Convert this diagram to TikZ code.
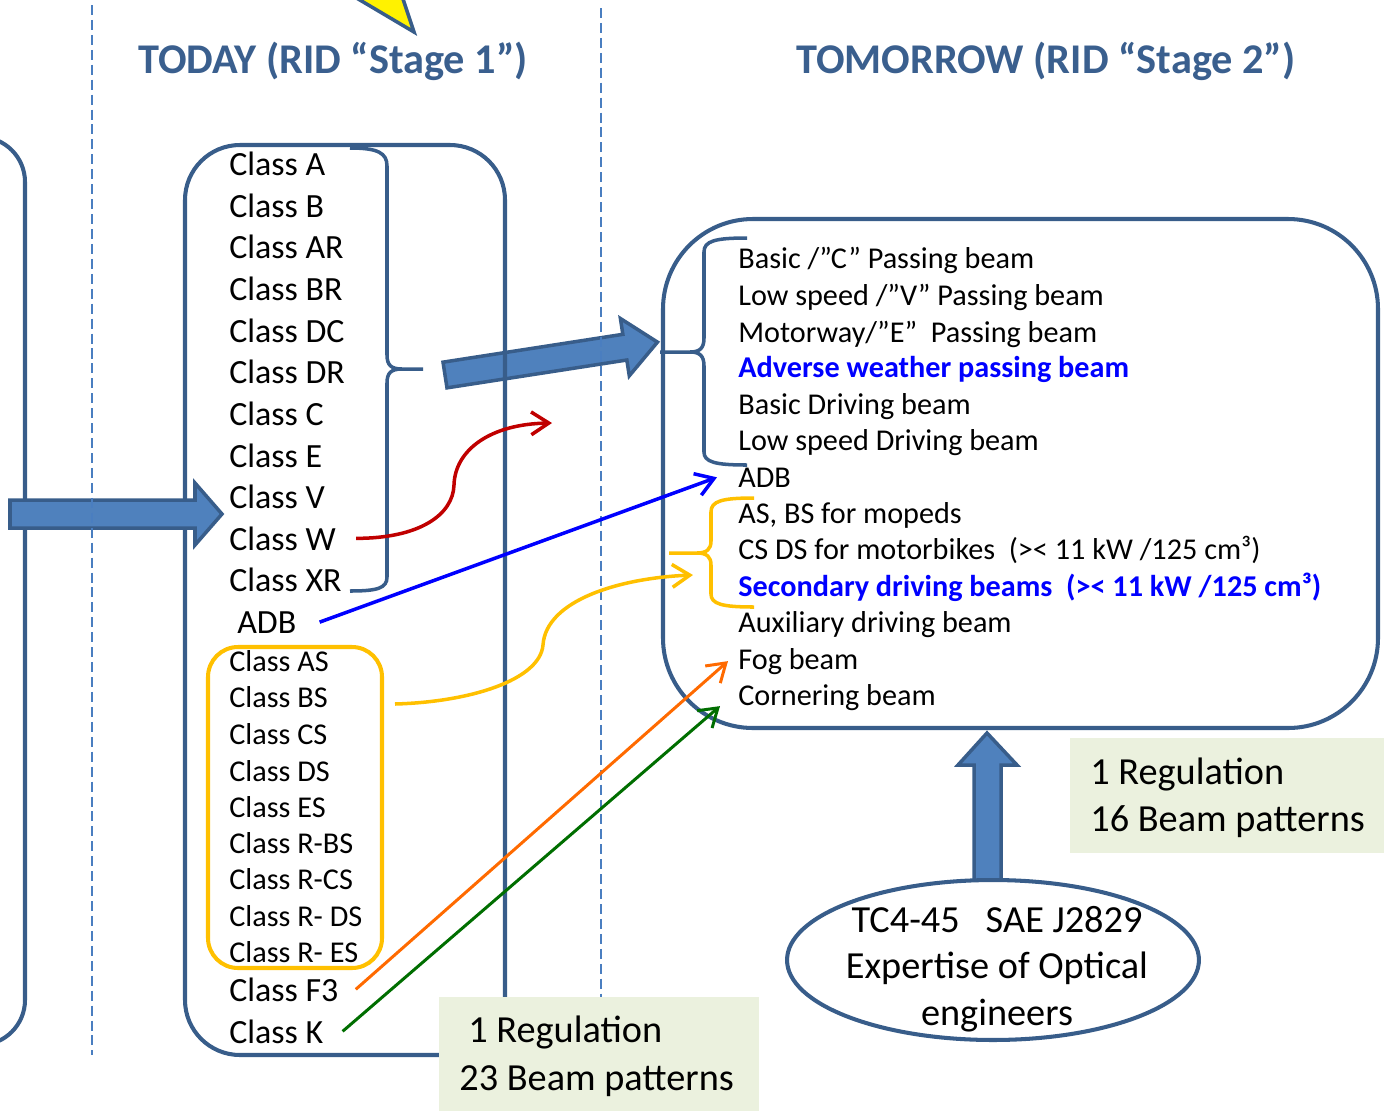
\documentclass[tikz,border=0pt]{standalone}
\usepackage{fontspec}
\setmainfont{Carlito}
\usetikzlibrary{calc,shapes.geometric,arrows.meta}
\definecolor{boxline}{HTML}{385D8A}
\definecolor{headblue}{HTML}{3A5F8E}
\definecolor{arrowfill}{HTML}{4F81BD}
\definecolor{vline}{HTML}{4A7EC0}
\definecolor{grpline}{HTML}{FFC000}
\definecolor{linkred}{HTML}{C00000}
\definecolor{linkblue}{HTML}{0000FF}
\definecolor{linkorange}{HTML}{FF6A00}
\definecolor{linkgreen}{HTML}{006E00}
\definecolor{regfill}{HTML}{EBF1DE}
\tikzset{
  clsbig/.style={anchor=base west,inner sep=0pt,font=\fontsize{19.3}{23}\selectfont},
  clssmall/.style={anchor=base west,inner sep=0pt,font=\fontsize{17.2}{20}\selectfont},
  headtxt/.style={anchor=base,inner sep=0pt,text=headblue,font=\fontsize{24.1}{28}\selectfont\bfseries},
  regtxt/.style={inner sep=0pt,font=\fontsize{21.8}{26}\selectfont},
  link/.style={line width=2pt,-{Straight Barb[length=10pt,width=13pt]}},
  blockarrow/.style={fill=arrowfill,draw=boxline,line width=2pt,line join=miter},
  bigbox/.style={draw=boxline,line width=2.3pt},
  bracepath/.style={draw=boxline,line width=2pt},
}
\begin{document}
\begin{tikzpicture}[x=0.02cm,y=-0.02cm]
  \useasboundingbox (0,0) rectangle (1384,1110);
  \clip (0,0) rectangle (1384,1110);
  \draw[fill=yellow,draw=boxline,line width=2pt] (343,-10) -- (414,32) -- (400,-10);

  \begin{scope}[shift={(445,375)},rotate=8.8]
    \draw[blockarrow] (0,-13) -- (182,-13) -- (182,-29) -- (215,0) -- (182,29) -- (182,13) -- (0,13) -- cycle;
  \end{scope}

  \draw[bigbox,rounded corners=0.9cm] (-80,137) -- (25,137) -- (25,1045) -- (-80,1045);
  \draw[bigbox,rounded corners=1.1cm] (185,145) rectangle (505,1055);
  \draw[bigbox,rounded corners=1.8cm] (663,219) rectangle (1378,728);
  \draw[draw=grpline,line width=2.3pt,rounded corners=0.6cm] (208,647) rectangle (382,968);

  \draw[bracepath] (350,148) .. controls (378,148) and (387,153) .. (387,166) -- (387,355)
    .. controls (387,365) and (391,369) .. (402,369) -- (423,369);
  \draw[bracepath] (402,369) .. controls (391,369) and (387,373) .. (387,383) -- (387,577)
    .. controls (387,588) and (378,591) .. (350,591);
  \draw[bracepath] (747,238) .. controls (715,238) and (704,241) .. (704,252) -- (704,338)
    .. controls (704,348) and (700,352) .. (690,352) -- (660,352);
  \draw[bracepath] (690,352) .. controls (700,352) and (704,356) .. (704,366) -- (704,452)
    .. controls (704,462) and (715,465) .. (747,465);
  \draw[bracepath,draw=grpline] (754,498) .. controls (722,498) and (711,501) .. (711,512) -- (711,541)
    .. controls (711,549) and (707,553) .. (697,553) -- (669,553);
  \draw[bracepath,draw=grpline] (697,553) .. controls (707,553) and (711,557) .. (711,565) -- (711,594)
    .. controls (711,604) and (722,607) .. (754,607);

  \draw[blockarrow] (10,500) -- (195,500) -- (195,483) -- (222,514) -- (195,545) -- (195,528) -- (10,528) -- cycle;

  \draw[vline,line width=1.1pt,dash pattern=on 5.7pt off 2.8pt] (92,5) -- (92,1055);
  \draw[vline,line width=1.1pt,dash pattern=on 5.7pt off 2.8pt] (601,8) -- (601,1055);

  \node[headtxt] (today) at (333,73) {TODAY (RID “Stage 1”)};
  \node[headtxt] (tomorrow) at (1046,73) {TOMORROW (RID “Stage 2”)};

  \foreach \nm/\txt/\yy in {cA/A/175,cB/B/217,cAR/AR/258,cBR/BR/300,cDC/DC/342,cDR/DR/383,
      cC/C/425,cE/E/467,cV/V/508,cW/W/550,cXR/XR/591}
    \node[clsbig] (\nm) at (229,\yy) {Class \txt};
  \node[clsbig] (adbL) at (237,633) {ADB};
  \foreach \nm/\txt/\yy in {cAS/AS/671,cBS/BS/707,cCS/CS/744,cDS/DS/781,cES/ES/817,
      cRBS/R-BS/853,cRCS/R-CS/889,cRDS/R- DS/926,cRES/R- ES/962}
    \node[clssmall] (\nm) at (229,\yy) {Class \txt};
  \node[clsbig] (cF3) at (229,1001) {Class F3};
  \node[clsbig] (cK) at (229,1043) {Class K};

  \node[clssmall] (basicR) at (738,268) {Basic /”C” Passing beam};
  \node[clssmall] (lowR) at (738,305) {Low speed /”V” Passing beam};
  \node[clssmall] (motR) at (738,342) {Motorway/”E”\ \ Passing beam};
  \node[clssmall,text=linkblue,font=\fontsize{17.2}{20}\selectfont\bfseries] (advR) at (738,377) {Adverse weather passing beam};
  \node[clssmall] (bdrR) at (738,414) {Basic Driving beam};
  \node[clssmall] (ldrR) at (738,450) {Low speed Driving beam};
  \node[clssmall] (adbR) at (738,487) {ADB};
  \node[clssmall] (mopR) at (738,523) {AS, BS for mopeds};
  \node[clssmall] (motbR) at (738,559) {CS DS for motorbikes\ \ (>< 11 kW /125 cm³)};
  \node[clssmall,text=linkblue,font=\fontsize{17.2}{20}\selectfont\bfseries] (secR) at (738,596) {Secondary driving beams\ \ (>< 11 kW /125 cm³)};
  \node[clssmall] (auxR) at (738,632) {Auxiliary driving beam};
  \node[clssmall] (fogR) at (738,669) {Fog beam};
  \node[clssmall] (corR) at (738,705) {Cornering beam};

  \coordinate (redEnd) at (552,423);
  \coordinate (ylwStart) at (395,704);
  \coordinate (ylwEnd) at (693,575);
  \draw[link,linkred] ([xshift=0.4cm]cW.east) .. controls +(63,0) and (453,515) .. (454,485)
    .. controls (455,450) and (490,424) .. (redEnd);
  \draw[link,linkblue] ([xshift=0.46cm]adbL.east) -- ([xshift=-0.42cm]adbR.west);
  \draw[link,grpline] (ylwStart) .. controls (470,702) and (540,680) .. (543,645)
    .. controls (546,600) and (620,578) .. (ylwEnd);
  \draw[link,linkorange,line width=1.7pt] ([xshift=0.34cm]cF3.east) -- ([xshift=-0.2cm]fogR.west);
  \draw[link,linkgreen,line width=1.7pt] ([xshift=0.38cm]cK.east) -- ([xshift=-0.36cm,yshift=-0.18cm]corR.west);

  \draw[blockarrow] (974,885) -- (974,765) -- (958,765) -- (987,733) -- (1017,765) -- (1001,765) -- (1001,885) -- cycle;
  \node[draw=boxline,line width=2.3pt,fill=white,ellipse,minimum width=8.24cm,minimum height=3.2cm] (expert) at (993,960) {};
  \node[regtxt,anchor=base] (exp1) at (997,932) {TC4-45\ \ \ SAE J2829};
  \node[regtxt,anchor=base] (exp2) at (997,978) {Expertise of Optical};
  \node[regtxt,anchor=base] (exp3) at (997,1025) {engineers};

  \fill[regfill] (439,997) rectangle (759,1115);
  \node[regtxt,anchor=base west] (regA1) at (468,1042) {1 Regulation};
  \node[regtxt,anchor=base west] (regA2) at (459,1090) {23 Beam patterns};
  \fill[regfill] (1070,738) rectangle (1390,853);
  \node[regtxt,anchor=base west] (regB1) at (1090,784) {1 Regulation};
  \node[regtxt,anchor=base west] (regB2) at (1090,831) {16 Beam patterns};
\end{tikzpicture}
\end{document}
